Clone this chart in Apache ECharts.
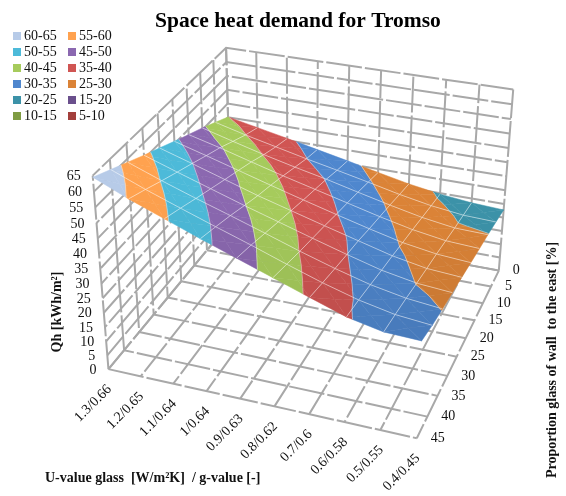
<!DOCTYPE html>
<html><head><meta charset="utf-8">
<style>html,body{margin:0;padding:0;background:#fff}#c{width:566px;height:496px}</style>
<script src="https://cdn.jsdelivr.net/npm/echarts@6/dist/echarts.min.js"></script></head>
<body><div id="c"></div>
<script>
var categories=['1.3/0.66','1.2/0.65','1.1/0.64','1/0.64','0.9/0.63','0.8/0.62','0.7/0.6','0.6/0.58','0.5/0.55','0.4/0.45'];
var depthLabels=['0','5','10','15','20','25','30','35','40','45'];
var heightTicks=[0,5,10,15,20,25,30,35,40,45,50,55,60,65];
var share0 =[40.1,37.9,35.7,33.4,31.1,28.7,26.4,24.6,23.4,22.8];
var share5 =[42.9,40.1,37.6,35.1,32.8,30.4,27.9,25.8,24.4,24.0];
var share10=[45.7,42.7,39.8,37.2,34.8,32.1,29.5,27.1,25.4,25.1];
var share15=[48.2,45.4,42.3,39.3,36.5,33.7,30.9,28.4,26.6,26.0];
var share20=[50.8,47.7,44.5,41.3,38.2,35.2,32.3,29.6,27.8,27.0];
var share25=[53.5,50.1,46.6,43.1,40.0,36.9,33.9,30.9,28.8,28.0];
var share30=[56.1,52.4,48.8,45.2,41.8,38.4,35.1,32.0,29.9,29.0];
var share35=[58.9,54.8,51.0,47.4,43.7,39.9,36.4,33.3,31.1,29.9];
var share40=[61.7,57.3,53.3,49.4,45.6,41.6,37.8,34.5,32.1,31.0];
var share45=[64.5,59.7,55.5,51.3,47.3,43.3,39.3,35.4,33.0,32.6];
var surface=[share0,share5,share10,share15,share20,share25,share30,share35,share40,share45];
var bands=['60-65','55-60','50-55','45-50','40-45','35-40','30-35','25-30','20-25','15-20','10-15','5-10'];
var bandColors=['#B7CBE8','#FFA24F','#4DBAD9','#8B68B0','#A6CB5C','#D05553','#4F87CE','#DB8337','#3C92A8','#6A4F8C','#7F9C43','#A33F3C'];

var FONT='"Liberation Serif","Times New Roman",serif';
// camera: cube corners (X right along categories, Y to the back, Z up) seen at these pixels
var cam=[[0,0,0,107,369],[1,0,0,418,437],[1,1,0,498,273],[0,1,0,232,220],[0,0,1,93,177],[1,1,1,513,88],[0,1,1,226,48]];
function solveCam(){
  var A=[];cam.forEach(function(c){var X=c[0],Y=c[1],Z=c[2],u=c[3],v=c[4];
    A.push([X,Y,Z,1,0,0,0,0,-u*X,-u*Y,-u*Z,u]);A.push([0,0,0,0,X,Y,Z,1,-v*X,-v*Y,-v*Z,v]);});
  var n=11,N=[];for(var r=0;r<n;r++){N[r]=[];for(var c=0;c<=n;c++){var s=0;A.forEach(function(a){s+=a[r]*a[c];});N[r][c]=s;}}
  for(var p=0;p<n;p++){var m=p;for(r=p+1;r<n;r++)if(Math.abs(N[r][p])>Math.abs(N[m][p]))m=r;var t=N[p];N[p]=N[m];N[m]=t;
    for(r=0;r<n;r++)if(r!==p){var f=N[r][p]/N[p][p];for(c=p;c<=n;c++)N[r][c]-=f*N[p][c];}}
  var x=[];for(r=0;r<n;r++)x[r]=N[r][n]/N[r][r];return x;
}
var P=solveCam();
function proj(i,j,z){var X=i/9,Y=1-j/9,Z=z/65,w=P[8]*X+P[9]*Y+P[10]*Z+1;
  return [(P[0]*X+P[1]*Y+P[2]*Z+P[3])/w,(P[4]*X+P[5]*Y+P[6]*Z+P[7])/w];}

function clip(poly,lim,keepAbove){var out=[];for(var k=0;k<poly.length;k++){var a=poly[k],b=poly[(k+1)%poly.length];
  var ai=keepAbove?a[2]>=lim:a[2]<=lim,bi=keepAbove?b[2]>=lim:b[2]<=lim;
  if(ai)out.push(a);
  if(ai!==bi){var t=(lim-a[2])/(b[2]-a[2]);out.push([a[0]+t*(b[0]-a[0]),a[1]+t*(b[1]-a[1]),lim]);}}
  return out;}
function shade(hex,f){var n=parseInt(hex.slice(1),16);return 'rgb('+[n>>16,(n>>8)&255,n&255].map(function(v){return Math.round(v*f);}).join(',')+')';}
var cells=[];for(var jj=0;jj<9;jj++)for(var ii=0;ii<9;ii++)cells.push([ii,jj]);
function bandRender(lo,hi,color){return function(params,api){
  var i=api.value(0),j=api.value(1),a=[i,j,surface[j][i]],b=[i+1,j,surface[j][i+1]],c=[i+1,j+1,surface[j+1][i+1]],d=[i,j+1,surface[j+1][i]];
  var m=[i+.5,j+.5,(a[2]+b[2]+c[2]+d[2])/4],tris=[[a,b,m],[b,c,m],[c,d,m],[d,a,m]],kids=[],isos=[];
  var col=shade(color,1-.1*Math.max(0,(i+j+1-9)/9));
  tris.forEach(function(t){var q=clip(clip(t,lo,true),hi,false);if(q.length<3)return;
    kids.push({type:'polygon',shape:{points:q.map(function(p){return api.coord(proj(p[0],p[1],p[2]));})},style:{fill:col,stroke:col,lineWidth:.5}});
    for(var k=0;k<q.length;k++){var e=q[k],g=q[(k+1)%q.length];
      if(e[2]===lo&&g[2]===lo)isos.push({type:'line',shape:(function(s,w){return {x1:s[0],y1:s[1],x2:w[0],y2:w[1]};})(api.coord(proj(e[0],e[1],lo)),api.coord(proj(g[0],g[1],lo))),style:{stroke:'rgba(255,255,255,.5)',lineWidth:.8},z2:5});}
  });
  return {type:'group',children:kids.concat(isos)};};}

function lineEl(api,pts,style){return {type:'polyline',shape:{points:pts.map(function(p){return api.coord(proj(p[0],p[1],p[2]));})},style:style};}
function wall(off){return {stroke:'#a8a8a8',lineWidth:2,fill:null,lineDash:[36,3],lineDashOffset:off};}
var wallSeries={type:'custom',silent:true,data:[[0]],renderItem:function(params,api){var kids=[],n;
  heightTicks.forEach(function(z,q){kids.push(lineEl(api,[[0,9,z],[0,0,z],[9,0,z]],wall(q*11)));});
  for(n=0;n<10;n++){kids.push(lineEl(api,[[0,n,0],[0,n,65]],wall(n*5)));kids.push(lineEl(api,[[n,0,0],[n,0,65]],wall(n*9)));
    kids.push(lineEl(api,[[0,n,0],[9,n,0]],wall(n*13)));kids.push(lineEl(api,[[n,0,0],[n,9,0]],wall(n*7)));}
  return {type:'group',children:kids};}};
var wireStyle={stroke:'rgba(255,255,255,.5)',lineWidth:1,fill:null};
var wireSeries={type:'custom',silent:true,data:[[0]],renderItem:function(params,api){var kids=[],n,k,pts;
  for(n=1;n<9;n++){pts=[];for(k=0;k<10;k++)pts.push([k,n,surface[n][k]]);kids.push(lineEl(api,pts,wireStyle));
    pts=[];for(k=0;k<10;k++)pts.push([n,k,surface[k][n]]);kids.push(lineEl(api,pts,wireStyle));}
  return {type:'group',children:kids};}};
function txt(api,p,dx,dy,s,align,rot){var c=api.coord(p);return {type:'text',x:c[0]+dx,y:c[1]+dy,rotation:rot||0,
  style:{text:s,fill:'#111',font:'14px '+FONT,textAlign:align,textVerticalAlign:'middle'}};}
var labelSeries={type:'custom',silent:true,data:[[0]],renderItem:function(params,api){var kids=[];
  heightTicks.forEach(function(z){kids.push(txt(api,proj(0,9,z),-12,1,String(z),'right'));});
  categories.forEach(function(s,n){kids.push(txt(api,proj(n,9,0),1,18,s,'right',Math.PI/4));});
  depthLabels.forEach(function(s,n){kids.push(txt(api,proj(9,n,0),14,0,s,'left'));});
  return {type:'group',children:kids};}};

var series=[wallSeries];
bands.forEach(function(name,k){var hi=65-5*k,lo=hi-5;
  series.push({type:'custom',name:name,silent:true,itemStyle:{color:bandColors[k]},data:cells,renderItem:bandRender(lo,hi,bandColors[k])});});
series.push(wireSeries,labelSeries);

var chart=echarts.init(document.getElementById('c'),null,{renderer:'canvas'});
function leg(left,start){var d=[];for(var k=start;k<12;k+=2)d.push(bands[k]);
  return {orient:'vertical',left:left,top:28,data:d,selectedMode:false,icon:'rect',itemWidth:8,itemHeight:8,itemGap:0,padding:0,
    textStyle:{fontFamily:FONT,fontSize:14,color:'#111',padding:[0,0,0,-2],lineHeight:16}};}
chart.setOption({animation:false,
  title:{text:'Space heat demand for Tromso',left:155,top:10,padding:0,textStyle:{fontFamily:FONT,fontSize:21.5,fontWeight:'bold',color:'#000'}},
  legend:[leg(13,0),leg(68,1)],
  grid:{left:0,right:0,top:0,bottom:0},
  xAxis:{type:'value',min:0,max:566,show:false},
  yAxis:{type:'value',min:0,max:496,inverse:true,show:false},
  series:series,
  graphic:[
   {type:'text',left:45,top:471,style:{text:'U-value glass  [W/m²K]  / g-value [-]',font:'bold 14px '+FONT,fill:'#111'}},
   {type:'text',x:57,y:312,rotation:Math.PI/2,style:{text:'Qh [kWh/m²]',font:'bold 14px '+FONT,fill:'#111',textAlign:'center',textVerticalAlign:'middle'}},
   {type:'text',x:552,y:360,rotation:Math.PI/2,style:{text:'Proportion glass of wall  to the east [%]',font:'bold 14px '+FONT,fill:'#111',textAlign:'center',textVerticalAlign:'middle'}}
  ]});
</script></body></html>
